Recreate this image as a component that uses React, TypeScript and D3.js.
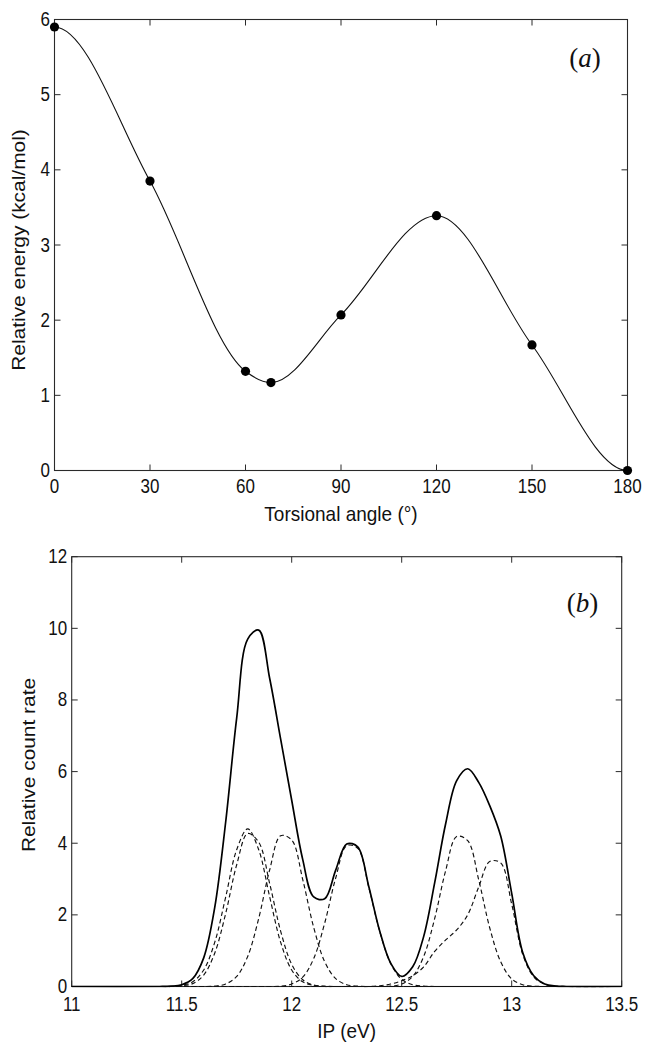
import React from "react";
import * as d3 from "d3";

// ---------- Panel (a) data ----------
const ANGLES = [0, 30, 60, 68, 90, 120, 150, 180];
const ENERGY = [5.9, 3.85, 1.32, 1.17, 2.07, 3.39, 1.67, 0];
const ANGLE_TICKS = [0, 30, 60, 90, 120, 150, 180];
const ENERGY_TICKS = [0, 1, 2, 3, 4, 5, 6];

// ---------- Panel (b) data ----------
const IP = [11.0, 11.4, 11.45, 11.5, 11.55, 11.6, 11.65, 11.7, 11.75, 11.8, 11.85, 11.9, 11.95, 12.0, 12.05, 12.1, 12.15, 12.2, 12.25, 12.3, 12.35, 12.4, 12.45, 12.5, 12.55, 12.6, 12.65, 12.7, 12.75, 12.8, 12.85, 12.9, 12.95, 13.0, 13.05, 13.1, 13.15, 13.2, 13.25, 13.5];
const ENVELOPE = [0, 0, 0.01, 0.05, 0.22, 0.8, 2.2, 4.6, 7.5, 9.7, 9.95, 8.6, 6.9, 5.2, 3.55, 2.5, 2.45, 3.25, 3.98, 3.9, 2.8, 1.55, 0.65, 0.28, 0.55, 1.4, 2.9, 4.55, 5.75, 6.08, 5.7, 5.05, 4.2, 2.6, 0.95, 0.3, 0.07, 0.01, 0, 0];
const BAND_A1 = [0, 0, 0, 0.03, 0.13, 0.46, 1.23, 2.5, 3.82, 4.4, 3.82, 2.5, 1.23, 0.46, 0.13, 0.03, 0, 0, 0, 0, 0, 0, 0, 0, 0, 0, 0, 0, 0, 0, 0, 0, 0, 0, 0, 0, 0, 0, 0, 0];
const BAND_A2 = [0, 0, 0, 0.02, 0.08, 0.32, 0.93, 2.04, 3.4, 4.27, 4.03, 2.87, 1.54, 0.62, 0.19, 0.04, 0.01, 0, 0, 0, 0, 0, 0, 0, 0, 0, 0, 0, 0, 0, 0, 0, 0, 0, 0, 0, 0, 0, 0, 0];
const BAND_B = [0, 0, 0, 0, 0, 0, 0.01, 0.07, 0.28, 0.84, 1.9, 3.26, 4.21, 4.09, 2.99, 1.65, 0.69, 0.22, 0.05, 0.01, 0, 0, 0, 0, 0, 0, 0, 0, 0, 0, 0, 0, 0, 0, 0, 0, 0, 0, 0, 0];
const BAND_C = [0, 0, 0, 0, 0, 0, 0, 0, 0, 0, 0, 0, 0.01, 0.07, 0.26, 0.78, 1.77, 3.03, 3.93, 3.86, 2.78, 1.54, 0.64, 0.2, 0.05, 0.01, 0, 0, 0, 0, 0, 0, 0, 0, 0, 0, 0, 0, 0, 0];
const BAND_D = [0, 0, 0, 0, 0, 0, 0, 0, 0, 0, 0, 0, 0, 0, 0, 0, 0, 0, 0, 0, 0, 0, 0.01, 0.07, 0.28, 0.84, 1.9, 3.24, 4.19, 4.07, 2.98, 1.64, 0.69, 0.21, 0.05, 0.01, 0, 0, 0, 0];
const BAND_E = [0, 0, 0, 0, 0, 0, 0, 0, 0, 0, 0, 0, 0, 0, 0, 0, 0, 0, 0, 0, 0, 0.02, 0.07, 0.16, 0.3, 0.55, 0.98, 1.3, 1.58, 2.0, 2.78, 3.49, 3.45, 2.3, 0.9, 0.27, 0.06, 0.01, 0, 0];
const BANDS = [BAND_A1, BAND_A2, BAND_B, BAND_C, BAND_D, BAND_E];
const IP_TICKS = [11, 11.5, 12, 12.5, 13, 13.5];
const COUNT_TICKS = [0, 2, 4, 6, 8, 10, 12];

const W = 645;
const H = 1042;
const SANS = "'Liberation Sans', Arial, Helvetica, sans-serif";
const SERIF = "'Liberation Serif', 'Times New Roman', serif";
const AXIS = "#2a2a2a";
const TICK_LEN = 6;

function TickLabel({ x, y, anchor, children }: { x: number; y: number; anchor: string; children: any }) {
  return (
    <text transform={`translate(${x},${y}) scale(1,1.18)`} textAnchor={anchor as any} fontSize={17} fontFamily={SANS} fill="#111">
      {children}
    </text>
  );
}

function Frame({ x, y, xTicks, yTicks, fmtX, fmtY, xLabelBase }: any) {
  const [x0, x1] = x.range();
  const [y0, y1] = y.range(); // y0 bottom, y1 top
  return (
    <g>
      <rect x={x0} y={y1} width={x1 - x0} height={y0 - y1} fill="none" stroke={AXIS} strokeWidth={1.1} />
      {xTicks.map((t: number) => (
        <g key={"xt" + t}>
          <line x1={x(t)} x2={x(t)} y1={y0} y2={y0 - TICK_LEN} stroke={AXIS} strokeWidth={1} />
          <line x1={x(t)} x2={x(t)} y1={y1} y2={y1 + TICK_LEN} stroke={AXIS} strokeWidth={1} />
          <TickLabel x={x(t)} y={xLabelBase} anchor="middle">{fmtX(t)}</TickLabel>
        </g>
      ))}
      {yTicks.map((t: number) => (
        <g key={"yt" + t}>
          <line x1={x0} x2={x0 + TICK_LEN} y1={y(t)} y2={y(t)} stroke={AXIS} strokeWidth={1} />
          <line x1={x1} x2={x1 - TICK_LEN} y1={y(t)} y2={y(t)} stroke={AXIS} strokeWidth={1} />
          <TickLabel x={x0 - 4.5} y={y(t) + 6.5} anchor="end">{fmtY(t)}</TickLabel>
        </g>
      ))}
    </g>
  );
}

export default function App() {
  // ----- panel (a) -----
  const xa = d3.scaleLinear().domain([0, 180]).range([54.5, 627.5]);
  const ya = d3.scaleLinear().domain([0, 6]).range([470.5, 19.5]);
  const pts: [number, number][] = ANGLES.map((a, i) => [a, ENERGY[i]]);
  const n = pts.length;
  // symmetric torsional potential: mirror neighbours around 0 and 180 so the curve ends flat
  const leftExt: [number, number][] = [pts[2], pts[1]].map(([a, e]) => [-a, e]);
  const rightExt: [number, number][] = [pts[n - 2], pts[n - 3]].map(([a, e]) => [2 * ANGLES[n - 1] - a, e]);
  const ext = [...leftExt, ...pts, ...rightExt];
  const lineA = d3
    .line<[number, number]>()
    .x((d) => xa(d[0]))
    .y((d) => ya(d[1]))
    .curve(d3.curveMonotoneX);

  // ----- panel (b) -----
  const xb = d3.scaleLinear().domain([11, 13.5]).range([71.7, 621.7]);
  const yb = d3.scaleLinear().domain([0, 12]).range([986.5, 556.7]);
  const lineB = (vals: number[]) =>
    d3
      .line<number>()
      .x((_, i) => xb(IP[i]))
      .y((v) => yb(v))
      .curve(d3.curveCatmullRom.alpha(0.5))(vals) as string;

  return (
    <svg width={W} height={H} style={{ position: "absolute", left: 0, top: 0, background: "#fff" }}>
      <defs>
        <clipPath id="clipA">
          <rect x={54.5} y={19.5 - 6} width={627.5 - 54.5} height={470.5 - 19.5 + 6} />
        </clipPath>
        <clipPath id="clipB">
          <rect x={71.7} y={556.7} width={550} height={986.5 - 556.7 + 1} />
        </clipPath>
      </defs>

      {/* ===== Panel (a) ===== */}
      <Frame x={xa} y={ya} xTicks={ANGLE_TICKS} yTicks={ENERGY_TICKS} fmtX={(t: number) => String(t)} fmtY={(t: number) => String(t)} xLabelBase={492.5} />
      <path d={lineA(ext) as string} fill="none" stroke="#111" strokeWidth={1.1} clipPath="url(#clipA)" />
      {pts.map(([a, e]) => (
        <circle key={"p" + a} cx={xa(a)} cy={ya(e)} r={4.6} fill="#000" />
      ))}
      <text transform={`translate(341,521) scale(1,1.1)`} textAnchor="middle" fontSize={19} fontFamily={SANS} fill="#111">
        Torsional angle (°)
      </text>
      <text transform={`translate(25,250) scale(1,1.1) rotate(-90)`} textAnchor="middle" fontSize={19} fontFamily={SANS} fill="#111">
        Relative energy (kcal/mol)
      </text>
      <text x={585} y={67} textAnchor="middle" fontSize={27} fontFamily={SERIF} fill="#111">
        (<tspan fontStyle="italic">a</tspan>)
      </text>

      {/* ===== Panel (b) ===== */}
      <Frame x={xb} y={yb} xTicks={IP_TICKS} yTicks={COUNT_TICKS} fmtX={(t: number) => String(t)} fmtY={(t: number) => String(t)} xLabelBase={1011} />
      <g clipPath="url(#clipB)">
        {BANDS.map((b, i) => (
          <path key={"band" + i} d={lineB(b)} fill="none" stroke="#111" strokeWidth={1.15} strokeDasharray="4.5 3" />
        ))}
        <path d={lineB(ENVELOPE)} fill="none" stroke="#000" strokeWidth={1.7} />
      </g>
      <text transform={`translate(346.7,1038) scale(1,1.1)`} textAnchor="middle" fontSize={19} fontFamily={SANS} fill="#111">
        IP (eV)
      </text>
      <text transform={`translate(34.5,765) scale(1,1.1) rotate(-90)`} textAnchor="middle" fontSize={19} fontFamily={SANS} fill="#111">
        Relative count rate
      </text>
      <text x={582.5} y={612} textAnchor="middle" fontSize={27} fontFamily={SERIF} fill="#111">
        (<tspan fontStyle="italic">b</tspan>)
      </text>
    </svg>
  );
}
